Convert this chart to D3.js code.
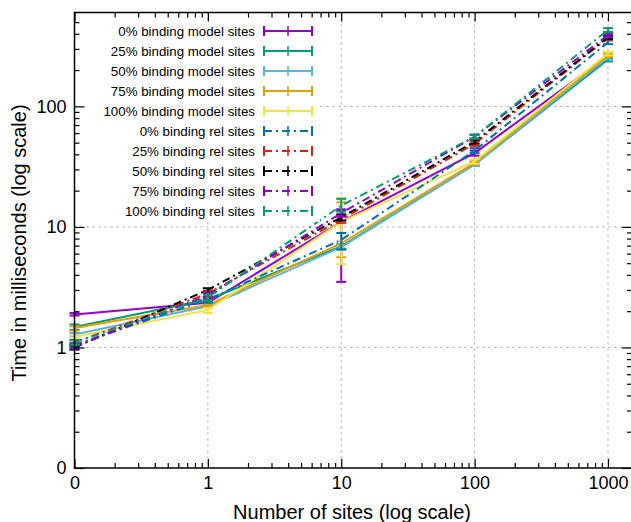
<!DOCTYPE html>
<html>
<head>
<meta charset="utf-8">
<script src="https://cdn.jsdelivr.net/npm/d3@7"></script>
<style>
    body { margin: 0; background: #fff; }
    svg { display: block; font-family: "Liberation Sans", Arial, sans-serif; }
    .tickLabels text { font-size: 18px; fill: #000; }
    .tickLabels line, .minor line { stroke: #000; stroke-width: 1.2; }
    .grid line { stroke: #a0a0a0; stroke-width: 1; stroke-dasharray: 2,4; }
    .legend text { font-size: 13.3px; fill: #000; }
</style>
</head>
<body>
<script>
'use strict';

// x values (0 is drawn at 0.1 on the log axis, like the original)
const sites = [0, 1, 10, 100, 1000];

// each point: [mean, low, high] in milliseconds
const model0 = [[1.88, 1.84, 1.93], [2.35, 2.28, 2.42], [11.0, 3.5, 14.0], [41, 39, 43], [262, 252, 272]];
const model25 = [[1.48, 1.40, 1.55], [2.50, 2.40, 2.62], [6.9, 6.6, 7.2], [33, 32, 34], [245, 236, 254]];
const model50 = [[1.28, 1.24, 1.32], [2.20, 2.12, 2.28], [6.8, 6.5, 7.1], [33, 32, 34.5], [255, 246, 264]];
const model75 = [[1.45, 1.38, 1.50], [2.25, 2.18, 2.33], [7.3, 5.6, 16.0], [34, 33, 35], [265, 256, 274]];
const model100 = [[1.22, 1.18, 1.26], [2.05, 1.93, 2.12], [11.0, 4.9, 17.4], [35, 33.5, 36.5], [275, 265, 285]];
const rel0 = [[1.05, 1.01, 1.09], [2.50, 2.35, 2.62], [7.8, 6.5, 8.9], [43, 41, 45], [340, 328, 352]];
const rel25 = [[1.10, 1.05, 1.15], [2.80, 2.65, 2.95], [11.5, 10.8, 12.2], [49, 47, 51], [370, 357, 383]];
const rel50 = [[1.00, 0.96, 1.04], [3.00, 2.85, 3.10], [12.0, 11.3, 12.7], [51, 49, 53], [375, 362, 388]];
const rel75 = [[1.02, 0.98, 1.06], [2.70, 2.55, 2.85], [13.0, 12.2, 13.8], [56, 54, 58], [390, 376, 404]];
const rel100 = [[1.10, 1.05, 1.15], [2.60, 2.45, 2.75], [15.0, 13.4, 17.1], [56, 54, 58.5], [430, 414, 446]];

const seriesNames = [
    '0% binding model sites', '25% binding model sites', '50% binding model sites',
    '75% binding model sites', '100% binding model sites',
    '0% binding rel sites', '25% binding rel sites', '50% binding rel sites',
    '75% binding rel sites', '100% binding rel sites'
];
const seriesValues = [model0, model25, model50, model75, model100, rel0, rel25, rel50, rel75, rel100];
const seriesColors = ['#9400d3', '#009e73', '#56b4e9', '#e69f00', '#f0e442',
    '#0072b2', '#e51e10', '#000000', '#9400d3', '#009e73'];

const xTickValues = [0.1, 1, 10, 100, 1000];
const xTickLabels = ['0', '1', '10', '100', '1000'];
const yTickValues = [0.1, 1, 10, 100];
const yTickLabels = ['0', '1', '10', '100'];


function getPlotArea() {
    return {
        width: 631,
        height: 522,
        left: 74.5,
        right: 632,
        top: 12.5,
        bottom: 468
    };
}


function makeScales(plot) {
    return {
        x: d3.scaleLog().domain([0.1, 1514]).range([plot.left, plot.right]),
        y: d3.scaleLog().domain([0.1, 601]).range([plot.bottom, plot.top])
    };
}


function minorValues(lo, hi) {
    const out = [];
    for (let d = lo; d < hi; d *= 10) {
        for (let m = 2; m <= 9; m++) {
            if (d * m < hi) out.push(d * m);
        }
    }
    return out;
}


function appendGrid(svg, scales, plot) {
    const g = svg.append('g').attr('class', 'grid');
    g.selectAll('.gx').data(xTickValues.slice(1)).enter().append('line')
        .attr('x1', d => scales.x(d)).attr('x2', d => scales.x(d))
        .attr('y1', plot.top).attr('y2', plot.bottom);
    g.selectAll('.gy').data(yTickValues.slice(1)).enter().append('line')
        .attr('x1', plot.left).attr('x2', plot.right)
        .attr('y1', d => scales.y(d)).attr('y2', d => scales.y(d));
}


function appendAxes(svg, scales, plot) {
    const xMinor = minorValues(0.1, 1514);
    const yMinor = minorValues(0.1, 590);

    svg.append('g').attr('class', 'tickLabels')
        .attr('transform', 'translate(0,' + plot.bottom + ')')
        .call(d3.axisBottom(scales.x).tickValues(xTickValues)
            .tickFormat((d, i) => xTickLabels[i]).tickSize(-9).tickPadding(8));
    svg.append('g').attr('class', 'tickLabels')
        .attr('transform', 'translate(0,' + plot.top + ')')
        .call(d3.axisTop(scales.x).tickValues(xTickValues).tickFormat('').tickSize(-9));
    svg.append('g').attr('class', 'tickLabels')
        .attr('transform', 'translate(' + plot.left + ',0)')
        .call(d3.axisLeft(scales.y).tickValues(yTickValues)
            .tickFormat((d, i) => yTickLabels[i]).tickSize(-10).tickPadding(8));
    svg.append('g').attr('class', 'tickLabels')
        .attr('transform', 'translate(' + plot.right + ',0)')
        .call(d3.axisRight(scales.y).tickValues(yTickValues).tickFormat('').tickSize(-10));

    svg.append('g').attr('class', 'minor')
        .attr('transform', 'translate(0,' + plot.bottom + ')')
        .call(d3.axisBottom(scales.x).tickValues(xMinor).tickFormat('').tickSize(-5));
    svg.append('g').attr('class', 'minor')
        .attr('transform', 'translate(0,' + plot.top + ')')
        .call(d3.axisTop(scales.x).tickValues(xMinor).tickFormat('').tickSize(-5));
    svg.append('g').attr('class', 'minor')
        .attr('transform', 'translate(' + plot.left + ',0)')
        .call(d3.axisLeft(scales.y).tickValues(yMinor).tickFormat('').tickSize(-5));
    svg.append('g').attr('class', 'minor')
        .attr('transform', 'translate(' + plot.right + ',0)')
        .call(d3.axisRight(scales.y).tickValues(yMinor).tickFormat('').tickSize(-5));

    svg.selectAll('.domain').remove();
    svg.selectAll('.tickLabels text').attr('font-family', null).attr('font-size', null);
}


function appendSeries(svg, scales) {
    const xOf = (i) => scales.x(sites[i] === 0 ? 0.1 : sites[i]);
    const line = d3.line().x((d, i) => xOf(i)).y(d => scales.y(d[0]));

    seriesValues.forEach((values, s) => {
        const g = svg.append('g').attr('class', 'series');
        const color = seriesColors[s];
        const dashed = s >= 5;
        g.append('path')
            .attr('d', line(values))
            .attr('fill', 'none')
            .attr('stroke', color)
            .attr('stroke-width', 2)
            .attr('stroke-dasharray', dashed ? '8,4,2,4' : null);
        const bars = g.selectAll('.err').data(values).enter().append('g');
        bars.append('line')
            .attr('x1', (d, i) => xOf(i)).attr('x2', (d, i) => xOf(i))
            .attr('y1', d => scales.y(d[1])).attr('y2', d => scales.y(d[2]))
            .attr('stroke', color).attr('stroke-width', 2);
        [1, 2].forEach(k => {
            bars.append('line')
                .attr('x1', (d, i) => xOf(i) - 5).attr('x2', (d, i) => xOf(i) + 5)
                .attr('y1', d => scales.y(d[k])).attr('y2', d => scales.y(d[k]))
                .attr('stroke', color).attr('stroke-width', 2);
        });
    });
}


function appendLegend(svg) {
    const g = svg.append('g').attr('class', 'legend');
    g.append('rect')
        .attr('x', 80).attr('y', 20).attr('width', 240).attr('height', 202)
        .attr('fill', '#fff');
    const rows = g.selectAll('.row').data(seriesNames).enter().append('g')
        .attr('transform', (d, i) => 'translate(0,' + (31 + i * 20) + ')');
    rows.append('text')
        .attr('x', 255).attr('y', 0).attr('dy', '0.35em')
        .attr('text-anchor', 'end')
        .text(d => d);
    rows.append('line')
        .attr('x1', 264).attr('x2', 312).attr('y1', 0).attr('y2', 0)
        .attr('stroke', (d, i) => seriesColors[i]).attr('stroke-width', 2)
        .attr('stroke-dasharray', (d, i) => i >= 5 ? '8,4,2,4' : null);
    [264, 288, 312].forEach(x => {
        rows.append('line')
            .attr('x1', x).attr('x2', x).attr('y1', -5).attr('y2', 5)
            .attr('stroke', (d, i) => seriesColors[i]).attr('stroke-width', x === 288 ? 1.5 : 2);
    });
}


function appendBorder(svg, plot) {
    svg.append('path')
        .attr('d', 'M' + plot.right + ',' + plot.top + 'H' + plot.left + 'V' + plot.bottom + 'H' + plot.right)
        .attr('fill', 'none')
        .attr('stroke', '#000')
        .attr('stroke-width', 1.5);
}


function appendTitles(svg, plot) {
    svg.append('text')
        .attr('x', 352).attr('y', 519)
        .attr('text-anchor', 'middle')
        .attr('font-size', 20)
        .text('Number of sites (log scale)');
    svg.append('text')
        .attr('transform', 'translate(26,243) rotate(-90)')
        .attr('text-anchor', 'middle')
        .attr('font-size', 20)
        .text('Time in milliseconds (log scale)');
}


function draw() {
    const plot = getPlotArea();
    const svg = d3.select('body').append('svg')
        .attr('width', plot.width)
        .attr('height', plot.height);
    const scales = makeScales(plot);
    appendGrid(svg, scales, plot);
    appendSeries(svg, scales);
    appendLegend(svg);
    appendAxes(svg, scales, plot);
    appendBorder(svg, plot);
    appendTitles(svg, plot);
}


window.onload = draw;
</script>
</body>
</html>
